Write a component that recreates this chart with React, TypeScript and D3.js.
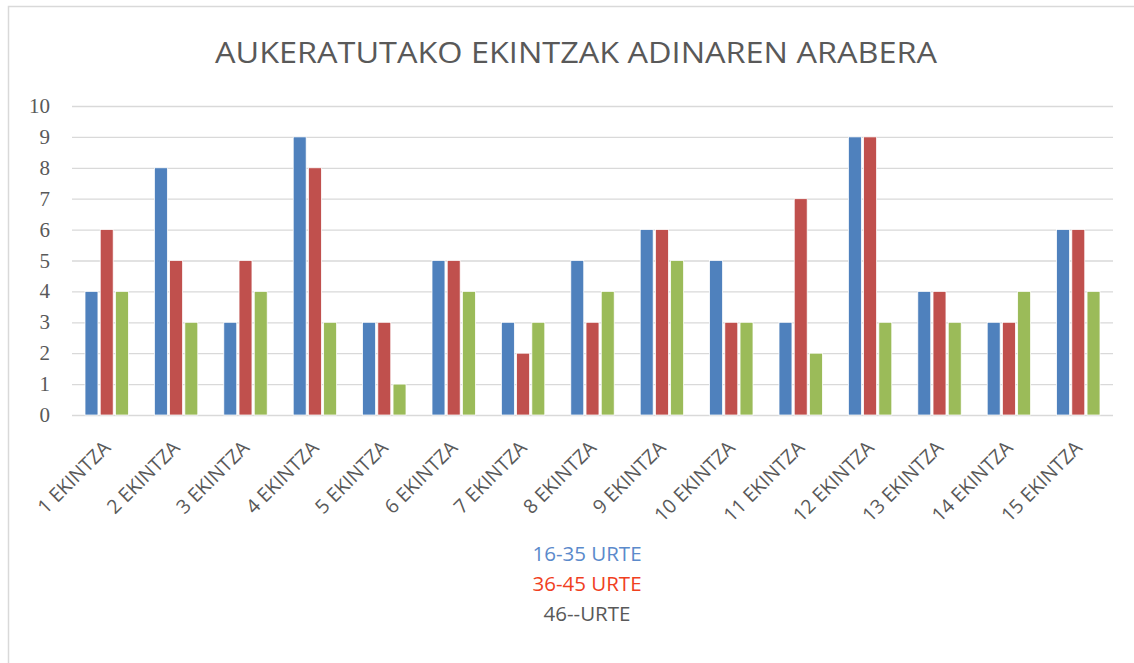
import * as d3 from "d3";

const categories = [
  "1 EKINTZA", "2 EKINTZA", "3 EKINTZA", "4 EKINTZA", "5 EKINTZA",
  "6 EKINTZA", "7 EKINTZA", "8 EKINTZA", "9 EKINTZA", "10 EKINTZA",
  "11 EKINTZA", "12 EKINTZA", "13 EKINTZA", "14 EKINTZA", "15 EKINTZA",
];
const young = [4, 8, 3, 9, 3, 5, 3, 5, 6, 5, 3, 9, 4, 3, 6];
const middle = [6, 5, 5, 8, 3, 5, 2, 3, 6, 3, 7, 9, 4, 3, 6];
const older = [4, 3, 4, 3, 1, 4, 3, 4, 5, 3, 2, 3, 3, 4, 4];
const seriesNames = ["16-35 URTE", "36-45 URTE", "46--URTE"];
const barColors = ["#4F81BD", "#C0504D", "#9BBB59"];
const legendColors = ["#5B8ACB", "#F0401E", "#595959"];
const yTicks = [0, 1, 2, 3, 4, 5, 6, 7, 8, 9, 10];

const W = 1134;
const H = 663;
const plot = { left: 72, right: 1113, top: 106, bottom: 415 };

export default function App() {
  const series = [young, middle, older];
  const x0 = d3
    .scaleBand<string>()
    .domain(categories)
    .range([plot.left, plot.right])
    .paddingInner(0.375)
    .paddingOuter(0.1875);
  const x1 = d3
    .scaleBand<number>()
    .domain([0, 1, 2])
    .range([0, x0.bandwidth()])
    .paddingInner(0.15);
  const y = d3.scaleLinear().domain([0, 10]).range([plot.bottom, plot.top]);

  return (
    <svg
      width={W}
      height={H}
      style={{ position: "fixed", left: 0, top: 0, background: "#fff" }}
    >
      <rect x={8.5} y={6.5} width={W + 20} height={H + 20} fill="#fff" stroke="#d9d9d9" strokeWidth={1.5} />

      <text
        x={576}
        y={63}
        textAnchor="middle"
        fontFamily="'Open Sans', sans-serif"
        fontSize={30}
        fill="#595959"
        textLength={722}
        lengthAdjust="spacingAndGlyphs"
      >
        AUKERATUTAKO EKINTZAK ADINAREN ARABERA
      </text>

      {yTicks.map((t) => (
        <g key={t}>
          <line x1={plot.left} x2={plot.right} y1={y(t) + 0.5} y2={y(t) + 0.5} stroke="#d9d9d9" strokeWidth={1.3} />
          <text
            x={50}
            y={y(t) + 7}
            textAnchor="end"
            fontFamily="'Liberation Serif', serif"
            fontSize={21}
            fill="#595959"
          >
            {t}
          </text>
        </g>
      ))}

      {categories.map((c, i) => (
        <g key={c} transform={`translate(${x0(c)},0)`}>
          {series.map((s, k) => (
            <rect
              key={k}
              x={x1(k)}
              y={y(s[i])}
              width={x1.bandwidth()}
              height={y(0) - y(s[i])}
              fill={barColors[k]}
              stroke="#fff"
              strokeWidth={0.75}
            />
          ))}
        </g>
      ))}

      {categories.map((c) => {
        const cx = (x0(c) as number) + x0.bandwidth() / 2 + 5;
        return (
          <text
            key={c}
            transform={`translate(${cx},${449}) rotate(-45)`}
            textAnchor="end"
            fontFamily="'Open Sans', sans-serif"
            fontSize={19.5}
            fill="#595959"
          >
            {c}
          </text>
        );
      })}

      {seriesNames.map((n, k) => (
        <text
          key={n}
          x={587}
          y={561 + k * 30}
          textAnchor="middle"
          fontFamily="'Open Sans', sans-serif"
          fontSize={20.5}
          fill={legendColors[k]}
        >
          {n}
        </text>
      ))}
    </svg>
  );
}
